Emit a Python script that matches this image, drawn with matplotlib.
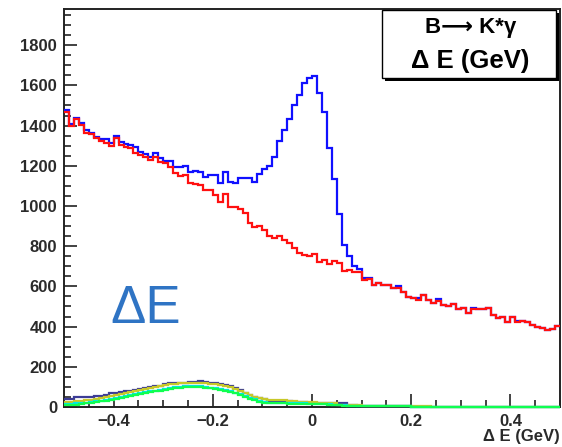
import numpy as np
import matplotlib
matplotlib.use("Agg")
import matplotlib.pyplot as plt
from matplotlib.patches import Rectangle
from matplotlib.ticker import MultipleLocator

# ---------------------------------------------------------------------------
# DATA — Delta E spectrum, 100 bins of 10 MeV between -0.5 and 0.5 GeV
# ---------------------------------------------------------------------------
DE_MIN, DE_MAX, N_BINS = -0.5, 0.5, 100

# signal + background (blue)
total = [
    1480, 1410, 1440, 1413, 1377, 1363, 1343, 1335, 1335, 1315,
    1347, 1317, 1310, 1302, 1292, 1269, 1257, 1244, 1264, 1237,
    1224, 1224, 1194, 1194, 1200, 1170, 1175, 1168, 1143, 1153,
    1153, 1113, 1168, 1118, 1113, 1140, 1138, 1138, 1118, 1160,
    1183, 1200, 1245, 1322, 1377, 1431, 1500, 1550, 1610, 1635,
    1645, 1561, 1467, 1287, 1133, 959, 805, 750, 700, 686,
    640, 640, 605, 615, 605, 605, 590, 600, 570, 545,
    540, 540, 555, 530, 515, 535, 505, 500, 510, 487,
    495, 470, 495, 487, 487, 495, 457, 443, 450, 423,
    447, 430, 430, 423, 408, 400, 393, 383, 387, 405,
]

# continuum background only (red)
background = [
    1470, 1400, 1435, 1405, 1365, 1360, 1340, 1325, 1315, 1297,
    1337, 1302, 1294, 1287, 1264, 1252, 1242, 1227, 1244, 1219,
    1212, 1192, 1162, 1150, 1152, 1116, 1108, 1103, 1078, 1078,
    1055, 1018, 1058, 993, 993, 983, 963, 914, 895, 900,
    880, 850, 840, 850, 830, 815, 790, 765, 755, 750,
    760, 720, 730, 710, 725, 715, 675, 680, 670, 670,
    630, 635, 605, 615, 605, 605, 590, 590, 570, 545,
    540, 530, 555, 530, 515, 525, 505, 500, 510, 487,
    495, 470, 487, 487, 487, 495, 457, 443, 450, 423,
    447, 423, 430, 423, 408, 400, 393, 383, 387, 405,
]

# B background components near the bottom
bbar_a = [
    40, 40, 50, 50, 50, 50, 55, 55, 60, 68,
    70, 75, 78, 80, 85, 90, 95, 100, 102, 105,
    112, 118, 118, 120, 120, 122, 125, 128, 125, 120,
    118, 115, 110, 105, 95, 85, 72, 60, 52, 45,
    38, 30, 30, 30, 30, 28, 27, 25, 25, 22,
    22, 20, 20, 18, 18, 18, 20, 10, 8, 5,
    3, 3, 3, 3, 3, 3, 3, 3, 3, 3,
    2, 2, 2, 2, 2, 0, 0, 0, 0, 0,
    0, 0, 0, 0, 0, 0, 0, 0, 0, 0,
    0, 0, 0, 0, 0, 0, 0, 0, 0, 0,
]
bbar_b = [
    25, 27, 30, 32, 33, 35, 40, 45, 50, 55,
    60, 65, 70, 75, 80, 85, 90, 95, 100, 105,
    108, 112, 115, 118, 120, 120, 120, 120, 118, 116,
    112, 108, 104, 98, 90, 82, 72, 62, 52, 45,
    40, 35, 35, 34, 33, 32, 30, 27, 27, 27,
    27, 22, 22, 22, 22, 10, 10, 10, 10, 10,
    3, 3, 3, 3, 3, 3, 3, 3, 3, 3,
    5, 5, 5, 5, 0, 0, 0, 0, 0, 0,
    0, 0, 0, 0, 0, 0, 0, 0, 0, 0,
    0, 0, 0, 0, 0, 0, 0, 0, 0, 0,
]
bbar_c = [
    15, 16, 18, 20, 22, 25, 28, 32, 36, 40,
    45, 50, 55, 60, 65, 70, 74, 78, 82, 86,
    90, 94, 98, 100, 102, 104, 104, 102, 100, 97,
    93, 88, 84, 80, 72, 64, 55, 46, 38, 30,
    25, 22, 20, 20, 20, 20, 20, 18, 18, 16,
    16, 15, 14, 13, 12, 10, 8, 6, 4, 4,
    4, 4, 4, 4, 4, 4, 4, 4, 4, 4,
    0, 0, 0, 0, 0, 0, 0, 0, 0, 0,
    0, 0, 0, 0, 0, 0, 0, 0, 0, 0,
    0, 0, 0, 0, 0, 0, 0, 0, 0, 0,
]
bbar_d = [
    8, 10, 12, 15, 18, 20, 24, 28, 32, 36,
    41, 46, 51, 56, 61, 66, 70, 74, 78, 82,
    86, 90, 93, 96, 98, 100, 100, 98, 96, 93,
    90, 85, 80, 76, 68, 60, 51, 42, 34, 27,
    22, 19, 18, 18, 18, 17, 17, 16, 16, 15,
    15, 14, 13, 12, 10, 8, 6, 5, 3, 3,
    3, 3, 3, 3, 3, 3, 3, 3, 3, 3,
    0, 0, 0, 0, 0, 0, 0, 0, 0, 0,
    0, 0, 0, 0, 0, 0, 0, 0, 0, 0,
    0, 0, 0, 0, 0, 0, 0, 0, 0, 0,
]

x_ticks = [-0.4, -0.2, 0.0, 0.2, 0.4]
x_tick_labels = ["\u22120.4", "\u22120.2", "0", "0.2", "0.4"]
y_ticks = [0, 200, 400, 600, 800, 1000, 1200, 1400, 1600, 1800]
y_tick_labels = [str(v) for v in y_ticks]

# ---------------------------------------------------------------------------
# FIGURE LAYOUT (pixel based, 562x447 at dpi 100)
# ---------------------------------------------------------------------------
W, H = 562, 447
FONT = "Liberation Sans"


def fx(px):
    return px / W


def fy(py):
    return 1 - py / H


fig = plt.figure(figsize=(W / 100, H / 100), dpi=100)
ax = fig.add_axes([fx(64), fy(407), (560 - 64) / W, (407 - 9) / H])

edges = np.linspace(DE_MIN, DE_MAX, N_BINS + 1)

ax.stairs(total, edges, color="#1010ff", lw=1.6, baseline=None, zorder=3)
ax.stairs(background, edges, color="#ff1010", lw=1.6, baseline=None, zorder=4)

# small B-background histograms sit on top of the axis line
ax.stairs(bbar_a, edges, color="#3c3c96", lw=1.6, baseline=None, zorder=5, clip_on=False)
ax.stairs(bbar_b, edges, color="#c8c828", lw=1.6, baseline=None, zorder=6, clip_on=False)
ax.stairs(bbar_c, edges, color="#00e8e8", lw=1.6, baseline=None, zorder=7, clip_on=False)
ax.stairs(bbar_d, edges, color="#10ff50", lw=1.6, baseline=None, zorder=8, clip_on=False)

ax.set_xlim(DE_MIN, DE_MAX)
ax.set_ylim(0, 1980)

ax.set_xticks(x_ticks)
ax.set_xticklabels(x_tick_labels)
ax.set_yticks(y_ticks)
ax.set_yticklabels(y_tick_labels)
ax.xaxis.set_minor_locator(MultipleLocator(0.05))
ax.yaxis.set_minor_locator(MultipleLocator(50))

ax.tick_params(which="both", direction="in", width=1.2, color="#222222",
               top=False, right=False)
ax.tick_params(which="major", length=9.5)
ax.tick_params(which="minor", length=5)
ax.tick_params(axis="y", pad=5)
ax.tick_params(axis="x", pad=5)
for lab in ax.get_xticklabels() + ax.get_yticklabels():
    lab.set_fontfamily(FONT)
    lab.set_fontweight("bold")
    lab.set_fontsize(12)
    lab.set_color("#2a2a2a")

for side in ["left", "bottom", "top", "right"]:
    ax.spines[side].set_linewidth(1.4)
    ax.spines[side].set_color("#222222")

# ---------------------------------------------------------------------------
# TITLE BOX with shadow
# ---------------------------------------------------------------------------
box_x0, box_y0, box_x1, box_y1 = 382, 10, 556, 78
shadow = Rectangle((fx(box_x0 + 3), fy(box_y1 + 3)), (box_x1 - box_x0) / W,
                   (box_y1 - box_y0) / H, transform=fig.transFigure,
                   facecolor="black", edgecolor="black", lw=0, zorder=10)
box = Rectangle((fx(box_x0), fy(box_y1)), (box_x1 - box_x0) / W,
                (box_y1 - box_y0) / H, transform=fig.transFigure,
                facecolor="white", edgecolor="black", lw=1.0, zorder=11)
fig.patches.extend([shadow, box])

fig.text(fx(471), fy(27), "B\u27f6 K*\u03b3", ha="center", va="center",
         fontsize=16, fontweight="bold", family=[FONT, "DejaVu Sans"], zorder=12)
fig.text(fx(470), fy(61), "\u0394 E (GeV)", ha="center", va="center",
         fontsize=18.5, fontweight="bold", family=[FONT, "DejaVu Sans"], zorder=12)

# axis title at the right end, ROOT style
fig.text(fx(560), fy(437), "\u0394 E (GeV)", ha="right", va="center",
         fontsize=12, fontweight="bold", family=[FONT, "DejaVu Sans"], color="#2a2a2a")

# large annotation
fig.text(fx(146), fy(309), "\u0394E", ha="center", va="center",
         fontsize=38, family=[FONT, "DejaVu Sans"], color="#2f74c4")

fig.savefig("out.png", dpi=100)
